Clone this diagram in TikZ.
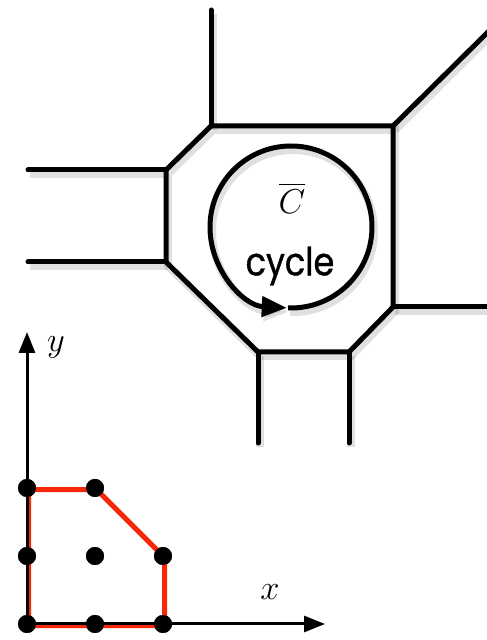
\documentclass[tikz,border=0pt]{standalone}
\usepackage{fontspec}
\usepackage{tikz}
\usetikzlibrary{arrows.meta,positioning}
\usepackage{xcolor}
\usepackage{amsmath}
\newfontfamily\cyclefont[FakeBold=0.9,FakeStretch=0.86]{Poppins}
\definecolor{polyred}{RGB}{250,40,10}

\begin{document}
\begin{tikzpicture}[x=0.5pt,y=0.5pt,node distance=34pt,on grid,
    >={Triangle[length=12.5pt,width=10pt]},
    shade/.style={preaction={draw=black,opacity=0.12,line width=4pt,
        transform canvas={shift={(1pt,-2pt)}}}},
    wall/.style={-,line width=2.5pt,line cap=round,shade},
    axis/.style={-{Triangle[length=10.5pt,width=8pt]},line width=1.5pt},
    lattice/.style={circle,fill=black,inner sep=0pt,minimum size=9pt}]
  \useasboundingbox (0,0) rectangle (486,640);

  % tropical curve
  \coordinate (a)  at (211,514);
  \coordinate (b)  at (393,514);
  \coordinate (c)  at (393,333);
  \coordinate (d)  at (349,288);
  \coordinate (e)  at (258,288);
  \coordinate (f)  at (166,378);
  \coordinate (g)  at (166,470);
  \coordinate (ra) at (211,630);
  \coordinate (rb) at (490,610);
  \coordinate (rc) at (490,333);
  \coordinate (rd) at (349,197);
  \coordinate (re) at (258,197);
  \coordinate (rf) at (28,378);
  \coordinate (rg) at (28,470);

  \draw[wall,line join=miter] (a) -- (b) -- (c) -- (d) -- (e) -- (f) -- (g) -- cycle;
  \path (a) edge [wall] (ra)
        (b) edge [wall] (rb)
        (c) edge [wall] (rc)
        (d) edge [wall] (rd)
        (e) edge [wall] (re)
        (f) edge [wall] (rf)
        (g) edge [wall] (rg);

  \coordinate (loop) at (291,413);
  \draw[->,line width=2.5pt,shade] (loop) ++(-92:40.5pt)
    arc[start angle=-92,end angle=267,radius=40.5pt];
  \node (cbar)                    at (292,442) {\fontsize{18}{20}\selectfont$\overline{C}$};
  \node (cyclelabel) [below=of cbar, xshift=-1pt] {\fontsize{19.5}{22}\selectfont\cyclefont cycle};

  % Newton polygon
  \node[lattice] (p00) at (27,16) {};
  \node[lattice] (p10) [right=of p00] {};
  \node[lattice] (p20) [right=of p10] {};
  \node[lattice] (p01) [above=of p00] {};
  \node[lattice] (p11) [right=of p01] {};
  \node[lattice] (p21) [right=of p11] {};
  \node[lattice] (p02) [above=of p01] {};
  \node[lattice] (p12) [right=of p02] {};

  \coordinate (xend) at (325,16);
  \coordinate (yend) at (27,308);

  \draw[polyred,line width=2.5pt,line join=miter,transform canvas={shift={(0.8pt,-0.8pt)}}]
    (p00.center) -- (p20.center) -- (p21.center) -- (p12.center) -- (p02.center) -- cycle;
  \draw[axis] (p00.center) -- (xend);
  \draw[axis] (p00.center) -- (yend);
  \foreach \p in {p00,p10,p20,p01,p11,p21,p02,p12}
    \fill (\p) circle (4.5pt);

  \node (xlabel) at (270,48)  {\fontsize{18}{20}\selectfont$x$};
  \node (ylabel) at (56,293)  {\fontsize{18}{20}\selectfont$y$};
\end{tikzpicture}
\end{document}
